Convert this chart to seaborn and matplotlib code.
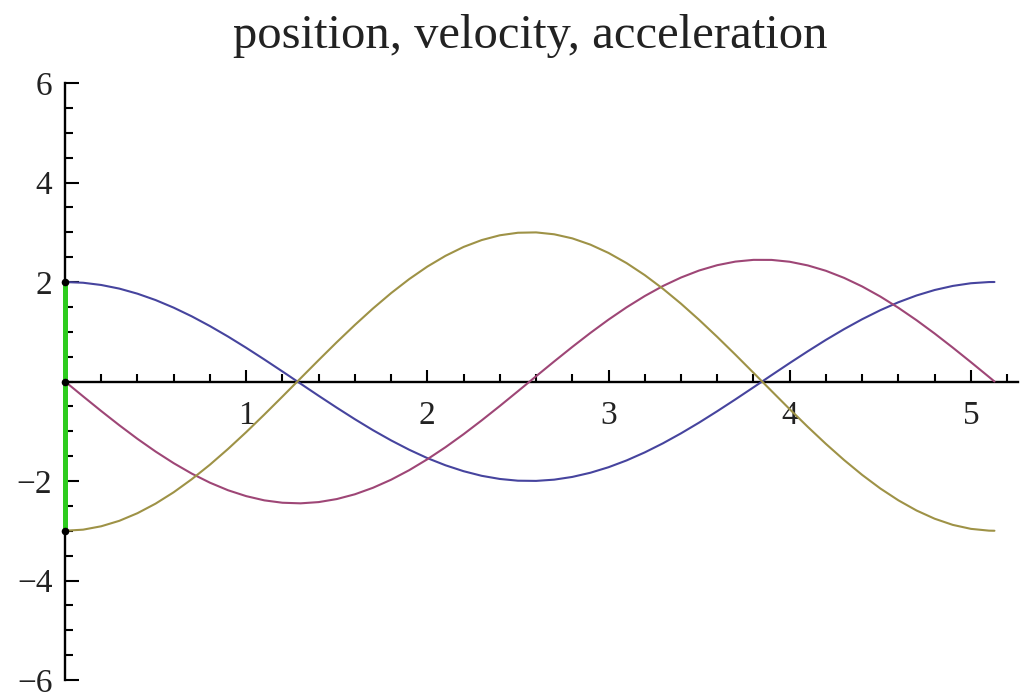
import numpy as np
import pandas as pd
import matplotlib
matplotlib.use("Agg")
import matplotlib.pyplot as plt
import seaborn as sns
from matplotlib.ticker import MultipleLocator, FixedLocator

# Sample times and the three motion curves of the oscillator
t_values = [0.0, 0.1, 0.2, 0.3, 0.4, 0.5, 0.6, 0.7, 0.8, 0.9,
            1.0, 1.1, 1.2, 1.3, 1.4, 1.5, 1.6, 1.7, 1.8, 1.9,
            2.0, 2.1, 2.2, 2.3, 2.4, 2.5, 2.6, 2.7, 2.8, 2.9,
            3.0, 3.1, 3.2, 3.3, 3.4, 3.5, 3.6, 3.7, 3.8, 3.9,
            4.0, 4.1, 4.2, 4.3, 4.4, 4.5, 4.6, 4.7, 4.8, 4.9,
            5.0, 5.1, 5.13]

position = [2.000, 1.985, 1.940, 1.867, 1.765, 1.637, 1.484, 1.309, 1.114, 0.903,
            0.678, 0.443, 0.202, -0.043, -0.287, -0.526, -0.758, -0.979, -1.184, -1.372,
            -1.540, -1.684, -1.803, -1.896, -1.959, -1.994, -1.998, -1.973, -1.918, -1.834,
            -1.723, -1.586, -1.425, -1.243, -1.042, -0.826, -0.597, -0.360, -0.117, 0.128,
            0.371, 0.608, 0.837, 1.052, 1.252, 1.433, 1.593, 1.729, 1.839, 1.921,
            1.975, 1.999, 2.000]

velocity = [0.000, -0.299, -0.594, -0.880, -1.153, -1.408, -1.642, -1.852, -2.034, -2.186,
            -2.304, -2.389, -2.437, -2.449, -2.424, -2.363, -2.267, -2.136, -1.974, -1.782,
            -1.563, -1.321, -1.059, -0.781, -0.492, -0.195, 0.105, 0.403, 0.695, 0.977,
            1.244, 1.492, 1.718, 1.919, 2.090, 2.231, 2.338, 2.410, 2.445, 2.444,
            2.407, 2.333, 2.225, 2.083, 1.910, 1.708, 1.481, 1.232, 0.964, 0.681,
            0.389, 0.091, 0.001]

acceleration = [-3.000, -2.978, -2.910, -2.800, -2.647, -2.455, -2.226, -1.963, -1.672, -1.355,
                -1.018, -0.665, -0.303, 0.064, 0.430, 0.790, 1.137, 1.468, 1.777, 2.059,
                2.310, 2.526, 2.705, 2.843, 2.939, 2.990, 2.997, 2.959, 2.877, 2.751,
                2.584, 2.379, 2.138, 1.865, 1.564, 1.239, 0.896, 0.540, 0.175, -0.192,
                -0.557, -0.913, -1.255, -1.578, -1.878, -2.150, -2.389, -2.593, -2.758, -2.882,
                -2.962, -2.998, -3.000]

series_names = ["position", "velocity", "acceleration"]
series_colors = ["#46449E", "#9E4676", "#9E9246"]

x_tick_values = [1, 2, 3, 4, 5]
x_tick_labels = ["1", "2", "3", "4", "5"]
y_tick_values = [-6, -4, -2, 2, 4, 6]
y_tick_labels = ["\u22126", "\u22124", "\u22122", "2", "4", "6"]

title_text = "position, velocity, acceleration"

df = pd.DataFrame({
    "t": t_values * 3,
    "value": position + velocity + acceleration,
    "series": (["position"] * len(t_values) + ["velocity"] * len(t_values)
               + ["acceleration"] * len(t_values)),
})

# Starting values of the three curves, marked on the vertical axis
start_values = [position[0], velocity[0], acceleration[0]]

sns.set_theme(style="white")
plt.rcParams["font.family"] = ["Liberation Serif", "DejaVu Serif"]

fig = plt.figure(figsize=(10.25, 7.0), dpi=100)
ax = fig.add_axes([65 / 1025, 1 - 680 / 700, (1018 - 65) / 1025, (680 - 83) / 700])

sns.lineplot(data=df, x="t", y="value", hue="series", hue_order=series_names,
             palette=series_colors, sort=False, estimator=None, legend=False,
             linewidth=1.5, ax=ax, zorder=3)

# green bar spanning the initial values, with dots at each start value
ax.plot([0, 0], [min(start_values), max(start_values)], color="#2ECC1E",
        linewidth=3.6, solid_capstyle="butt", zorder=4, clip_on=False)
ax.scatter([0] * len(start_values), start_values, s=30, color="black",
           zorder=5, clip_on=False, linewidths=0)

ax.set_xlim(0, 5.26)
ax.set_ylim(-6, 6)

for side in ["top", "right"]:
    ax.spines[side].set_visible(False)
ax.spines["bottom"].set_position(("data", 0))
ax.spines["left"].set_position(("data", 0))
for side in ["bottom", "left"]:
    ax.spines[side].set_color("black")
    ax.spines[side].set_linewidth(1.7)
    ax.spines[side].set_zorder(2)

ax.xaxis.set_major_locator(FixedLocator(x_tick_values))
ax.xaxis.set_minor_locator(MultipleLocator(0.2))
ax.yaxis.set_major_locator(FixedLocator(y_tick_values))
ax.yaxis.set_minor_locator(MultipleLocator(0.5))
ax.set_xticklabels(x_tick_labels)
ax.set_yticklabels(y_tick_labels)

ax.tick_params(axis="x", which="major", direction="in", length=9, width=1.5,
               color="black", labelsize=24, pad=14, bottom=True)
ax.tick_params(axis="x", which="minor", direction="in", length=5.5, width=1.5,
               color="black", bottom=True)
ax.tick_params(axis="y", which="major", direction="in", length=10, width=1.5,
               color="black", labelsize=24, pad=9, left=True)
ax.tick_params(axis="y", which="minor", direction="in", length=6, width=1.5,
               color="black", left=True)
for lbl in ax.get_xticklabels() + ax.get_yticklabels():
    lbl.set_color("#222222")

ax.set_xlabel("")
ax.set_ylabel("")
ax.grid(False)
ax.set_facecolor("white")

fig.text(530 / 1025, 1 - 48 / 700, title_text, ha="center", va="baseline",
         fontsize=35, color="#222222")

fig.savefig("out.png", dpi=100, facecolor="white")
